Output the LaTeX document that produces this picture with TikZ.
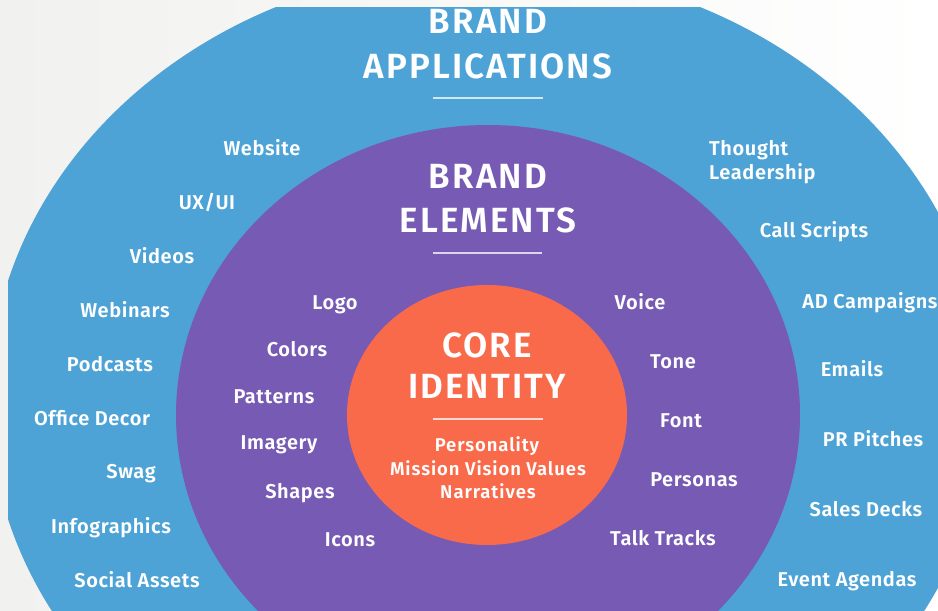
\documentclass[tikz,border=0pt]{standalone}
\usepackage{fontspec}
\setmainfont{Fira Sans}[BoldFont={Fira Sans SemiBold}, LetterSpace=3]
\definecolor{bggray}{HTML}{F1F1EF}
\definecolor{appblue}{HTML}{4EA3D6}
\definecolor{elempurple}{HTML}{775AB4}
\definecolor{coreorange}{HTML}{F96A4B}

\begin{document}
\begin{tikzpicture}[x=1pt,y=-1pt]
\tikzset{item/.style = {text=white, font=\bfseries\fontsize{20}{24}\selectfont, text height=13.8pt, text depth=0pt, inner sep=0pt}}
\tikzset{sub/.style = {item, font=\bfseries\fontsize{18.5}{22}\selectfont\addfontfeatures{LetterSpace=5}, text height=12.7pt}}
\tikzset{heading/.style = {text=white, font=\bfseries\fontsize{35}{40}\selectfont\addfontfeatures{LetterSpace=6}, inner sep=0pt, anchor=base}}
\tikzset{rule/.style = {draw=white, line width=2pt, opacity=0.75}}

\useasboundingbox (0,0) rectangle (938,611);
\shade[left color=bggray, right color=white] (0,0) rectangle (938,611);

% rings
\begin{scope}
\clip (0,0) rectangle (938,611);
\fill[appblue] (488,400) ellipse [x radius=499, y radius=434];
\fill[elempurple] (488,415) ellipse [x radius=312, y radius=290];
\fill[coreorange] (487,415) ellipse [x radius=140, y radius=130];
\end{scope}
\shade[left color=bggray, right color=white] (0,0) rectangle (938,6);
\fill[bggray] (0,0) rectangle (8,611);

% headings
\node[heading] (brandA) at (488,33) {BRAND};
\node[heading] (applications) at (488,78) {APPLICATIONS};
\draw[rule] (433,98) -- (543,98);
\node[heading] (brandB) at (488,188) {BRAND};
\node[heading] (elements) at (488,232) {ELEMENTS};
\draw[rule] (433,253) -- (542,253);
\node[heading] (core) at (487,357) {CORE};
\node[heading] (identity) at (487,398) {IDENTITY};
\draw[rule] (433,419) -- (543,419);

% core
\node[sub] (personality) at (487,445) {Personality};
\node[sub] (mission) at (488,469) {Mission Vision Values};
\node[sub] (narratives) at (488,492) {Narratives};

% elements
\node[item] (logo) at (335,303) {Logo};
\node[item] (colors) at (297,350) {Colors};
\node[item] (patterns) at (274,397) {Patterns};
\node[item] (imagery) at (279,443) {Imagery};
\node[item] (shapes) at (300,492) {Shapes};
\node[item] (icons) at (350,540) {Icons};
\node[item] (voice) at (640,303) {Voice};
\node[item] (tone) at (673,362) {Tone};
\node[item] (font) at (681,421) {Font};
\node[item] (personas) at (694,480) {Personas};
\node[item] (talktracks) at (663,539) {Talk Tracks};

% applications
\node[item] (website) at (262,149) {Website};
\node[item] (uxui) at (207,203) {UX/UI};
\node[item] (videos) at (162,257) {Videos};
\node[item] (webinars) at (125,311) {Webinars};
\node[item] (podcasts) at (110,365) {Podcasts};
\node[item] (officedecor) at (92,419) {Office Decor};
\node[item] (swag) at (131,472) {Swag};
\node[item] (infographics) at (111,527) {Infographics};
\node[item] (socialassets) at (137,581) {Social Assets};
\node[item, anchor=west] (thought) at (709,149) {Thought};
\node[item, anchor=west] (leadership) at (709,173) {Leadership};
\node[item] (callscripts) at (814,231) {Call Scripts};
\node[item] (adcampaigns) at (870,302) {AD Campaigns};
\node[item] (emails) at (852,370) {Emails};
\node[item] (prpitches) at (873,440) {PR Pitches};
\node[item] (salesdecks) at (866,510) {Sales Decks};
\node[item] (eventagendas) at (847,580) {Event Agendas};
\end{tikzpicture}
\end{document}
